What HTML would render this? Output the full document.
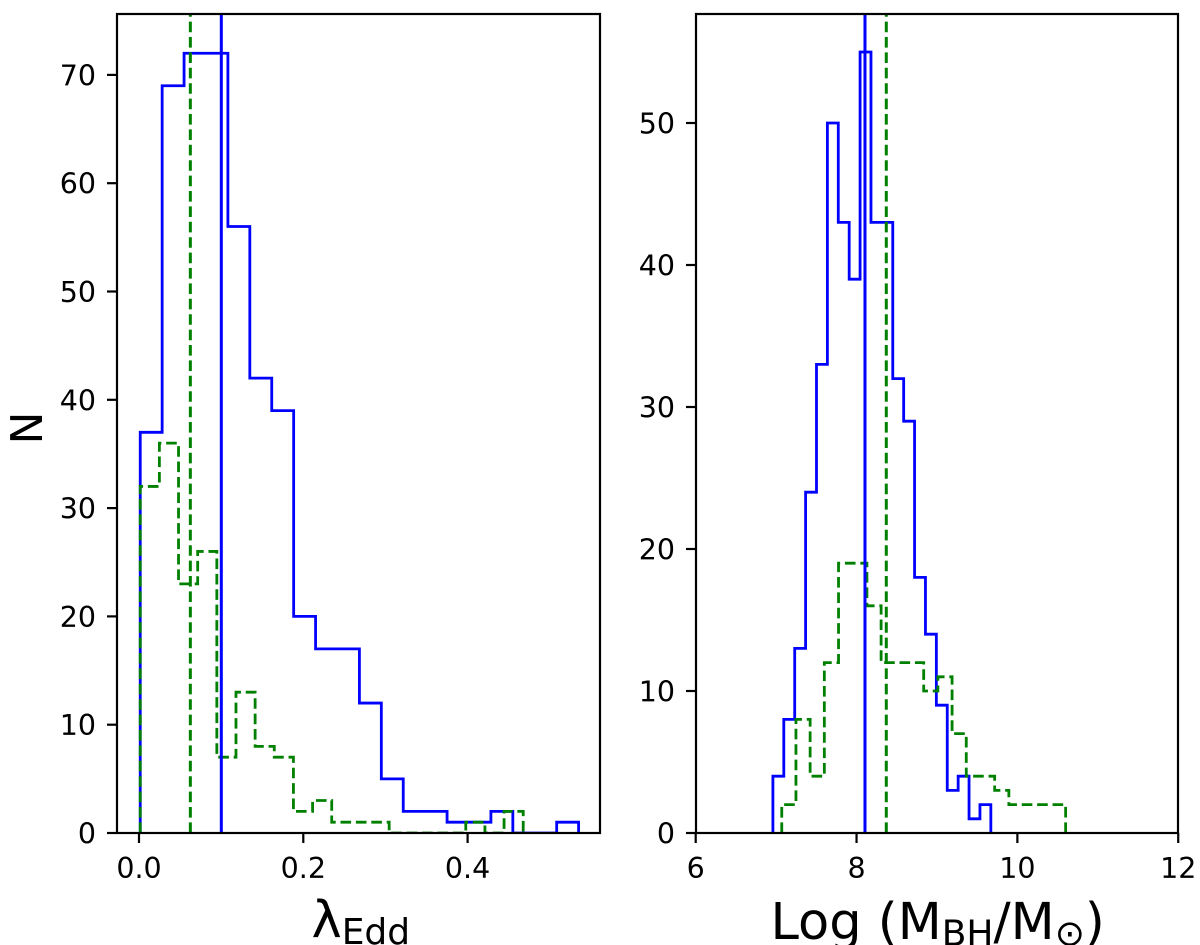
<!DOCTYPE html>
<html>
<head>
<meta charset="utf-8">
<title>Histograms of Eddington ratio and black hole mass</title>
<style>
html,body{margin:0;padding:0;background:#fff;width:1200px;height:945px;overflow:hidden}
svg{display:block}
text{font-family:"DejaVu Sans","Liberation Sans",sans-serif;fill:#000}
.tick{font-size:28.5px}
.title{font-size:44px}
</style>
</head>
<body>
<svg id="chart" xmlns="http://www.w3.org/2000/svg" width="1200" height="945" viewBox="0 0 1200 945">
  <defs>
    <clipPath id="clip-left"><rect x="117" y="14" width="483" height="818"/></clipPath>
    <clipPath id="clip-right"><rect x="696" y="14" width="482" height="818"/></clipPath>
  </defs>
  <g id="panel-left"></g>
  <g id="panel-right"></g>
  <text class="title" transform="translate(42,428) rotate(-90)" text-anchor="middle">N</text>
  <text x="311.5" y="937" font-size="51px">λ<tspan font-size="36px" dy="7">Edd</tspan></text>
  <text x="770.5" y="939" font-size="51px">Log (M<tspan font-size="36px" dy="6.5">BH</tspan><tspan dy="-6.5">/M</tspan><tspan font-size="36px" dy="6.5">⊙</tspan><tspan dy="-6.5">)</tspan></text>
</svg>
<script>
// Left panel data
const leftXTicks = [0.0, 0.2, 0.4];
const leftXTickLabels = ['0.0', '0.2', '0.4'];
const leftYTicks = [0, 10, 20, 30, 40, 50, 60, 70];
const leftBlueStart = 0.0015;
const leftBlueBinWidth = 0.02668;
const leftBlueCounts = [37, 69, 72, 72, 56, 42, 39, 20, 17, 17, 12, 5, 2, 2, 1, 1, 2, 0, 0, 1];
const leftGreenStart = 0.0015;
const leftGreenBinWidth = 0.02331;
const leftGreenCounts = [32, 36, 23, 26, 7, 13, 8, 7, 2, 3, 1, 1, 1, 0, 0, 0, 0, 1, 0, 2];
const leftBlueMedian = 0.1002;
const leftGreenMedian = 0.0625;

// Right panel data
const rightXTicks = [6, 8, 10, 12];
const rightXTickLabels = ['6', '8', '10', '12'];
const rightYTicks = [0, 10, 20, 30, 40, 50];
const rightBlueStart = 6.96;
const rightBlueBinWidth = 0.1355;
const rightBlueCounts = [4, 8, 13, 24, 33, 50, 43, 39, 55, 43, 43, 32, 29, 18, 14, 9, 3, 4, 1, 2];
const rightGreenStart = 7.07;
const rightGreenBinWidth = 0.1765;
const rightGreenCounts = [2, 8, 4, 12, 19, 19, 16, 12, 12, 12, 10, 11, 7, 4, 4, 3, 2, 2, 2, 2];
const rightBlueMedian = 8.105;
const rightGreenMedian = 8.37;

const NS = 'http://www.w3.org/2000/svg';
const BLUE = '#0000ff';
const GREEN = '#008000';
const BOTTOM = 833;
const TOP = 14;

function make(parent, tag, attrs) {
  const el = document.createElementNS(NS, tag);
  for (const k in attrs) el.setAttribute(k, attrs[k]);
  parent.appendChild(el);
  return el;
}

function stepPath(start, width, counts, sx, sy) {
  let d = 'M' + sx(start) + ' ' + sy(0);
  counts.forEach(function (c, i) {
    d += 'L' + sx(start + i * width) + ' ' + sy(c);
    d += 'L' + sx(start + (i + 1) * width) + ' ' + sy(c);
  });
  d += 'L' + sx(start + counts.length * width) + ' ' + sy(0);
  return d;
}

function drawPanel(opts) {
  const g = document.getElementById(opts.id);
  const sx = opts.sx, sy = opts.sy;
  const plot = make(g, 'g', { 'clip-path': 'url(#' + opts.clip + ')' });

  const blue = make(plot, 'path', { d: stepPath(opts.blueStart, opts.blueWidth, opts.blueCounts, sx, sy), fill: 'none', stroke: BLUE, 'stroke-width': 2.8, 'stroke-linejoin': 'miter' });
  
  

  const green = make(plot, 'path', { d: stepPath(opts.greenStart, opts.greenWidth, opts.greenCounts, sx, sy), fill: 'none', stroke: GREEN, 'stroke-width': 2.8, 'stroke-dasharray': '10.6 4.8' });
  
  

  const bm = make(plot, 'line', { x1: sx(opts.blueMedian), x2: sx(opts.blueMedian), y1: BOTTOM, y2: TOP, stroke: BLUE, 'stroke-width': 3 });
  
  

  const gm = make(plot, 'line', { x1: sx(opts.greenMedian), x2: sx(opts.greenMedian), y1: BOTTOM, y2: TOP, stroke: GREEN, 'stroke-width': 3, 'stroke-dasharray': '10.6 4.8' });
  
  

  opts.xTicks.forEach(function (t, i) {
    const x = sx(t);
    const tick = make(g, 'line', { x1: x, x2: x, y1: BOTTOM, y2: BOTTOM + 10, stroke: '#000', 'stroke-width': 2.2 });
    
    
    const label = make(g, 'text', { x: x, y: 878, 'text-anchor': 'middle', class: 'tick' });
    label.textContent = opts.xLabels[i];
    
    
  });

  opts.yTicks.forEach(function (t) {
    const y = sy(t);
    const tick = make(g, 'line', { x1: opts.left - 10, x2: opts.left, y1: y, y2: y, stroke: '#000', 'stroke-width': 2.2 });
    
    
    const label = make(g, 'text', { x: opts.left - 21, y: y + 10.5, 'text-anchor': 'end', class: 'tick' });
    label.textContent = String(t);
    
    
  });

  const frame = make(g, 'rect', { x: opts.left, y: TOP, width: opts.right - opts.left, height: BOTTOM - TOP, fill: 'none', stroke: '#000', 'stroke-width': 2.2 });
  
  
}

drawPanel({
  id: 'panel-left', clip: 'clip-left', left: 117, right: 600,
  sx: function (v) { return 139 + 821.5 * v; },
  sy: function (v) { return BOTTOM - 10.83 * v; },
  xTicks: leftXTicks, xLabels: leftXTickLabels, yTicks: leftYTicks,
  blueStart: leftBlueStart, blueWidth: leftBlueBinWidth, blueCounts: leftBlueCounts,
  greenStart: leftGreenStart, greenWidth: leftGreenBinWidth, greenCounts: leftGreenCounts,
  blueMedian: leftBlueMedian, greenMedian: leftGreenMedian
});

drawPanel({
  id: 'panel-right', clip: 'clip-right', left: 696, right: 1178,
  sx: function (v) { return 695.7 + 80.42 * (v - 6); },
  sy: function (v) { return BOTTOM - 14.2 * v; },
  xTicks: rightXTicks, xLabels: rightXTickLabels, yTicks: rightYTicks,
  blueStart: rightBlueStart, blueWidth: rightBlueBinWidth, blueCounts: rightBlueCounts,
  greenStart: rightGreenStart, greenWidth: rightGreenBinWidth, greenCounts: rightGreenCounts,
  blueMedian: rightBlueMedian, greenMedian: rightGreenMedian
});
</script>
</body>
</html>
